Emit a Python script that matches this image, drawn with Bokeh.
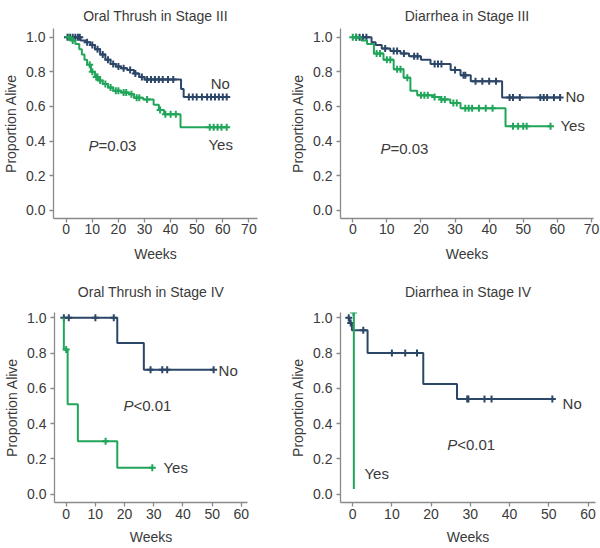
import numpy as np
from bokeh.plotting import figure
from bokeh.layouts import column, row
from bokeh.models import Range1d, FixedTicker, Label, PrintfTickFormatter, Title
from bokeh.embed import file_html
from bokeh.resources import INLINE

# ---------------- data (weeks, proportion alive) ----------------
# Panel 1: Oral Thrush in Stage III
ot3_no_t = [0, 5.5, 7.5, 9.3, 11, 13, 15, 17, 19, 21, 23.4, 26, 28, 30, 44, 45, 61.5]
ot3_no_s = [1.0, 0.98, 0.97, 0.955, 0.93, 0.90, 0.87, 0.845, 0.83, 0.82, 0.81, 0.79, 0.77, 0.755, 0.70, 0.655, 0.655]
ot3_no_c = [0.5, 1.5, 2.5, 3.5, 4.5, 5.2, 8, 10, 12, 14, 16, 18, 20, 22, 24.5, 26.5, 29, 31, 32.5, 34, 35.5,
            37, 39, 41, 47, 48.5, 50, 52, 54, 55.5, 57, 58.5, 60, 61.5]
ot3_yes_t = [0, 2, 3.5, 5, 6, 7, 8, 9.5, 11, 12.5, 14, 16, 18, 21, 24, 26, 29.5, 33.5, 35.5, 37.5, 43.8, 61.5]
ot3_yes_s = [1.0, 0.98, 0.96, 0.93, 0.90, 0.87, 0.84, 0.80, 0.77, 0.75, 0.73, 0.71, 0.69, 0.68, 0.67, 0.65,
             0.64, 0.61, 0.58, 0.555, 0.48, 0.48]
ot3_yes_c = [1, 2.5, 9, 10, 11.5, 12, 13, 15, 17, 19, 20, 22, 23, 25, 27, 28, 31, 36, 38, 40, 42,
             55, 56.5, 58, 59.5, 61.5]

# Panel 2: Diarrhea in Stage III
d3_no_t = [0, 5.5, 6.7, 8.5, 11, 14, 16.5, 20, 22.8, 28.7, 31.6, 34.6, 43.8, 60.8]
d3_no_s = [1.0, 0.97, 0.955, 0.935, 0.92, 0.905, 0.89, 0.87, 0.845, 0.81, 0.78, 0.745, 0.652, 0.652]
d3_no_c = [1, 2, 3, 4, 9.5, 12, 13, 15, 18, 19, 24, 25, 26, 30, 32.5, 33, 36, 38, 40, 42,
           46, 47, 49, 55, 56, 57, 59, 60.8]
d3_yes_t = [0, 2.5, 4.2, 6.2, 9, 12, 14.9, 16.9, 18.9, 23.7, 25.7, 28.6, 31.6, 44.8, 58]
d3_yes_s = [1.0, 0.98, 0.96, 0.905, 0.87, 0.815, 0.765, 0.69, 0.665, 0.655, 0.64, 0.62, 0.59, 0.485, 0.485]
d3_yes_c = [0, 1, 7, 8, 10, 11, 13, 14, 16, 20, 21, 22, 24, 26, 27, 29.5, 30.5, 33, 34, 35, 37, 39, 41,
            47, 48.5, 50, 51, 58]

# Panel 3: Oral Thrush in Stage IV
ot4_no_t = [-1, 17.5, 26.6, 50.5]
ot4_no_s = [1.0, 0.857, 0.706, 0.706]
ot4_no_c = [-0.8, 0.9, 10, 16.3, 28.9, 32.9, 34.6, 50.5]
ot4_yes_t = [-0.8, -0.8, 0.5, 4, 17.5, 29.5]
ot4_yes_s = [1.0, 0.82, 0.51, 0.30, 0.15, 0.15]
ot4_yes_c = [0, 13.5, 29.5]

# Panel 4: Diarrhea in Stage IV
d4_no_t = [-1.3, -0.8, -0.2, 3.8, 18, 26.6, 50.9]
d4_no_s = [1.0, 0.97, 0.93, 0.80, 0.625, 0.54, 0.54]
d4_no_c = [-1.0, -0.5, 2.7, 10, 13.4, 16.4, 29.2, 29.5, 33.6, 35.4, 50.9]
d4_yes_t = [0.3, 0.3]
d4_yes_s = [1.03, 0.03]
d4_yes_c = [0.2]

y_ticks = [0.0, 0.2, 0.4, 0.6, 0.8, 1.0]
x_ticks_top = [0, 10, 20, 30, 40, 50, 60, 70]
x_ticks_bottom = [0, 10, 20, 30, 40, 50, 60]

NAVY = "#2c4668"
GREEN = "#20a55a"
TEXT = "#3a3a3a"
AXIS = "#8a8a8a"
FONT = "Liberation Sans"


def surv_at(times, surv, c):
    idx = np.searchsorted(np.array(times), np.array(c), side="right") - 1
    idx = np.clip(idx, 0, len(surv) - 1)
    return list(np.array(surv)[idx])


def make_panel(title, w, h, mbl, mbr, mbt, mbb, xr, yr, xticks, lab_stand, axlab_stand, spacer):
    p = figure(width=w, height=h, output_backend="svg", toolbar_location=None,
               x_range=Range1d(*xr), y_range=Range1d(*yr),
               min_border_left=mbl, min_border_right=mbr,
               min_border_top=mbt, min_border_bottom=mbb)
    if spacer:
        # thin spacer between the title and the plot frame
        p.add_layout(Title(text=" ", text_font_size="6px", standoff=0), "above")
    p.title.text = title
    p.title.align = "center"
    p.title.text_font = FONT
    p.title.text_font_size = "14px"
    p.title.text_font_style = "normal"
    p.title.text_color = TEXT
    p.outline_line_color = None
    p.grid.visible = False
    p.background_fill_color = "white"
    p.border_fill_color = "white"
    for ax in (p.xaxis[0], p.yaxis[0]):
        ax.axis_line_color = AXIS
        ax.axis_line_width = 1.3
        ax.major_tick_line_color = AXIS
        ax.major_tick_line_width = 1.3
        ax.major_tick_out = 4
        ax.major_tick_in = 0
        ax.minor_tick_line_color = None
        ax.major_label_text_font = FONT
        ax.major_label_text_font_size = "14px"
        ax.major_label_text_color = TEXT
        ax.axis_label_text_font = FONT
        ax.axis_label_text_font_size = "14px"
        ax.axis_label_text_font_style = "normal"
        ax.axis_label_text_color = TEXT
    p.xaxis.ticker = FixedTicker(ticks=xticks)
    p.yaxis.ticker = FixedTicker(ticks=y_ticks)
    p.yaxis.formatter = PrintfTickFormatter(format="%.1f")
    p.xaxis.axis_label = "Weeks"
    p.yaxis.axis_label = "Proportion Alive"
    p.xaxis.major_label_standoff = lab_stand
    p.xaxis.axis_label_standoff = axlab_stand
    p.yaxis.major_label_standoff = 4
    p.yaxis.axis_label_standoff = 4
    return p


def draw(p, t, s, c, color):
    p.step(t, s, mode="after", line_color=color, line_width=2)
    p.scatter(c, surv_at(t, s, c), marker="cross", size=7, line_color=color, line_width=2)


def txt(p, x, y, text, italic=False, x_offset=0):
    p.add_layout(Label(x=x, y=y, text=text, x_offset=x_offset, text_font=FONT,
                       text_font_size="15px", text_color=TEXT, text_baseline="middle",
                       text_font_style="italic" if italic else "normal"))


def ptext(p, x, y, rest):
    txt(p, x, y, "P", italic=True)
    txt(p, x, y, rest, x_offset=10)


YR_TOP = (-0.047, 1.05)
YR_BOT = (-0.047, 1.03)

p1 = make_panel("Oral Thrush in Stage III", 287, 276, 53, 30, 24, 58, (-4.87, 73.3), YR_TOP, x_ticks_top, 1, 9, False)
draw(p1, ot3_no_t, ot3_no_s, ot3_no_c, NAVY)
draw(p1, ot3_yes_t, ot3_yes_s, ot3_yes_c, GREEN)
txt(p1, 55.4, 0.73, "No")
txt(p1, 54.5, 0.38, "Yes")
ptext(p1, 8.5, 0.376, "=0.03")

p2 = make_panel("Diarrhea in Stage III", 313, 276, 53, 7, 24, 58, (-3.6, 70.6), YR_TOP, x_ticks_top, 1, 9, False)
draw(p2, d3_no_t, d3_no_s, d3_no_c, NAVY)
draw(p2, d3_yes_t, d3_yes_s, d3_yes_c, GREEN)
txt(p2, 62.4, 0.66, "No")
txt(p2, 60.9, 0.49, "Yes")
ptext(p2, 8.1, 0.355, "=0.03")

p3 = make_panel("Oral Thrush in Stage IV", 287, 272, 54, 40, 36, 46, (-4.0, 62.1), YR_BOT, x_ticks_bottom, 2, 7, True)
draw(p3, ot4_no_t, ot4_no_s, ot4_no_c, NAVY)
draw(p3, ot4_yes_t, ot4_yes_s, ot4_yes_c, GREEN)
txt(p3, 52.2, 0.70, "No")
txt(p3, 33.3, 0.15, "Yes")
ptext(p3, 19.6, 0.505, "<0.01")

p4 = make_panel("Diarrhea in Stage IV", 313, 272, 53, 5, 36, 46, (-3.1, 61.9), YR_BOT, x_ticks_bottom, 2, 7, True)
draw(p4, d4_no_t, d4_no_s, d4_no_c, NAVY)
draw(p4, d4_yes_t, d4_yes_s, d4_yes_c, GREEN)
txt(p4, 53.5, 0.517, "No")
txt(p4, 3.0, 0.12, "Yes")
ptext(p4, 24.1, 0.28, "<0.01")

layout = column(row(p1, p2), row(p3, p4))
open("out.html", "w").write(file_html(layout, INLINE))
